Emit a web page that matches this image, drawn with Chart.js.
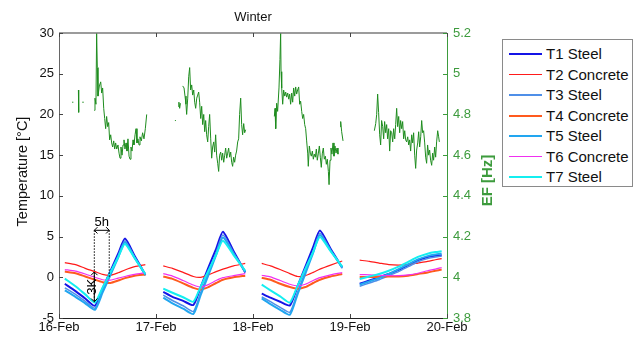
<!DOCTYPE html>
<html><head><meta charset="utf-8">
<script src="https://cdn.jsdelivr.net/npm/chart.js@4/dist/chart.umd.min.js"></script>
<style>
html,body{margin:0;padding:0;background:#fff;}
#wrap{position:relative;width:641px;height:340px;}
#legend{position:absolute;left:502px;top:39px;width:131px;height:148px;border:1px solid #8a8a8a;box-sizing:border-box;background:#fff;font-family:Arial,"Liberation Sans",sans-serif;font-size:15px;color:#111;}
.row{position:absolute;left:0;width:129px;height:20px;}
.sw{position:absolute;left:6px;width:33px;}
.lbl{position:absolute;left:43px;top:0;line-height:20px;white-space:nowrap;}
</style></head>
<body><div id="wrap"><canvas id="c" width="641" height="340"></canvas><div id="legend"></div></div>
<script>
// ---- axis categories / tick labels ----
const dayTicks = [0, 1, 2, 3, 4];
const dayLabels = ['16-Feb', '17-Feb', '18-Feb', '19-Feb', '20-Feb'];
const tempTicks = [-5, 0, 5, 10, 15, 20, 25, 30];
const efTicks = [3.8, 4, 4.2, 4.4, 4.6, 4.8, 5, 5.2];
const efTickLabels = ['3.8', '4', '4.2', '4.4', '4.6', '4.8', '5', '5.2'];

// ---- temperature series (days since 16-Feb, four daily measurement windows of 10 samples) ----
const tempDays = [0.06,0.17,0.27,0.37,0.45,0.53,0.61,0.68,0.78,0.89,
  1.075,1.17,1.28,1.385,1.46,1.54,1.62,1.69,1.80,1.92,
  2.09,2.18,2.28,2.38,2.46,2.54,2.62,2.69,2.80,2.92,
  3.10,3.20,3.30,3.40,3.50,3.60,3.70,3.80,3.88,3.945];
const T1 = [-0.8,-1.7,-2.6,-3.5,-1.37,0.76,2.89,4.75,2.63,0.3, -1.8,-2.4,-2.9,-3.4,-1.2,1.2,3.5,5.6,3.2,0.6, -2.0,-2.5,-3.0,-3.45,-1.1,1.3,3.7,5.75,3.5,1.2, -0.8,-0.4,0.0,0.4,0.9,1.5,2.1,2.5,2.65,2.7];
const T2 = [1.8,1.55,1.1,0.7,0.35,0.25,0.55,0.9,1.3,1.55, 1.4,1.1,0.6,0.1,0.0,0.3,0.7,1.0,1.4,1.7, 1.7,1.4,0.95,0.45,0.1,0.2,0.6,1.0,1.5,2.0, 2.1,1.95,1.75,1.55,1.5,1.55,1.75,1.95,2.15,2.3];
const T3 = [-1.3,-2.1,-2.95,-3.8,-1.66,0.48,2.63,4.5,2.45,0.2, -2.2,-2.85,-3.5,-4.2,-1.89,0.57,3.04,5.2,3.0,0.6, -2.4,-3.0,-3.7,-4.3,-1.8,0.7,3.2,5.4,3.34,1.1, -1.1,-0.7,-0.3,0.2,0.7,1.3,1.9,2.3,2.5,2.6];
const T4 = [0.7,0.5,0.1,-0.3,-0.6,-0.7,-0.4,-0.1,0.2,0.35, 0.1,-0.2,-0.75,-1.3,-1.5,-1.2,-0.7,-0.3,0.0,0.2, -0.05,-0.3,-0.8,-1.2,-1.4,-1.2,-0.7,-0.3,0.1,0.4, 0.05,0.05,0.05,0.1,0.1,0.2,0.4,0.6,0.8,0.95];
const T5 = [-1.6,-2.4,-3.2,-4.0,-1.86,0.28,2.43,4.3,2.4,0.3, -2.5,-3.2,-3.85,-4.5,-2.19,0.27,2.74,4.9,2.89,0.7, -2.6,-3.3,-4.0,-4.6,-2.07,0.46,2.99,5.2,3.29,1.2, -0.9,-0.5,-0.1,0.4,1.0,1.6,2.2,2.6,2.8,2.9];
const T6 = [0.95,0.75,0.4,0.0,-0.3,-0.35,-0.1,0.1,0.35,0.55, 0.45,0.15,-0.4,-0.95,-1.2,-0.9,-0.4,-0.05,0.2,0.45, 0.25,0.05,-0.4,-0.85,-1.05,-0.85,-0.4,-0.05,0.3,0.57, 0.33,0.3,0.25,0.2,0.2,0.3,0.5,0.8,1.0,1.2];
const T7 = [-0.16,-1.1,-2.1,-3.1,-1.24,0.61,2.47,4.1,2.35,0.4, -1.4,-1.9,-2.45,-3.0,-1.16,0.81,2.78,4.5,2.73,0.8, -0.9,-1.6,-2.35,-3.1,-1.02,1.06,3.13,4.95,3.2,1.3, -0.2,0.1,0.4,0.8,1.3,1.9,2.5,2.9,3.1,3.2];
const seriesNames = ['T1 Steel','T2 Concrete','T3 Steel','T4 Concrete','T5 Steel','T6 Concrete','T7 Steel'];

// ---- eigenfrequency EF [Hz] runs of [day, Hz] ----
const efBit1 = [[0.135,4.86],[0.148,4.86]];
const efBit2 = [[0.200,4.92],[0.203,4.81]];
const efBit3 = [[0.240,4.86],[0.255,4.86]];
const efSeg1 = [[0.364,4.82],[0.371,4.88],[0.381,4.85],[0.388,5.2],[0.395,5.03],[0.402,4.89],[0.416,4.94],[0.43,4.96],[0.44,4.905],[0.45,4.93],[0.461,4.83],[0.471,4.78],[0.481,4.73],[0.491,4.79],[0.502,4.74],[0.512,4.76],[0.522,4.675],[0.533,4.70],[0.543,4.66],[0.553,4.64],[0.564,4.67],[0.574,4.63],[0.584,4.66],[0.595,4.63],[0.608,4.65],[0.619,4.61],[0.629,4.585],[0.639,4.64],[0.65,4.60],[0.66,4.65],[0.67,4.675],[0.68,4.63],[0.691,4.66],[0.701,4.62],[0.711,4.68],[0.722,4.595],[0.732,4.58],[0.742,4.64],[0.753,4.62],[0.763,4.675],[0.773,4.65],[0.784,4.70],[0.794,4.73],[0.804,4.66],[0.814,4.68],[0.825,4.65],[0.835,4.69],[0.849,4.67],[0.862,4.71],[0.876,4.68],[0.89,4.73],[0.904,4.80]];
const efBit4 = [[1.195,4.77],[1.205,4.77]];
const efBit5 = [[1.228,4.84],[1.236,4.86],[1.244,4.83],[1.252,4.855]];
const efSeg2 = [[1.275,4.94],[1.289,4.93],[1.299,4.89],[1.309,4.85],[1.316,4.80],[1.327,4.88],[1.337,4.985],[1.347,5.03],[1.357,4.92],[1.368,4.945],[1.378,4.895],[1.389,4.92],[1.399,4.86],[1.409,4.83],[1.42,4.88],[1.43,4.895],[1.44,4.91],[1.45,4.86],[1.461,4.78],[1.471,4.84],[1.481,4.75],[1.492,4.80],[1.502,4.715],[1.512,4.77],[1.522,4.70],[1.533,4.665],[1.543,4.74],[1.553,4.80],[1.564,4.68],[1.574,4.585],[1.584,4.64],[1.595,4.665],[1.605,4.615],[1.615,4.70],[1.625,4.60],[1.636,4.56],[1.646,4.52],[1.656,4.60],[1.667,4.615],[1.677,4.575],[1.687,4.61],[1.698,4.565],[1.708,4.60],[1.718,4.635],[1.729,4.585],[1.739,4.61],[1.749,4.635],[1.759,4.59],[1.77,4.615],[1.78,4.565],[1.79,4.545],[1.8,4.59],[1.811,4.565],[1.821,4.60],[1.831,4.62],[1.842,4.665],[1.852,4.68],[1.862,4.80],[1.873,4.88],[1.883,4.75],[1.893,4.70],[1.904,4.755],[1.914,4.71],[1.924,4.725]];
const efSeg3 = [[2.22,4.79],[2.227,4.83],[2.234,4.73],[2.244,4.855],[2.254,4.815],[2.268,4.93],[2.278,5.07],[2.285,5.2],[2.289,5.01],[2.296,4.93],[2.306,4.85],[2.316,4.92],[2.327,4.89],[2.337,4.91],[2.347,4.885],[2.358,4.905],[2.368,4.875],[2.378,4.90],[2.388,4.85],[2.399,4.905],[2.409,4.86],[2.419,4.93],[2.43,4.89],[2.44,4.935],[2.45,4.90],[2.46,4.92],[2.471,4.935],[2.481,4.85],[2.491,4.865],[2.502,4.815],[2.512,4.78],[2.522,4.80],[2.533,4.75],[2.543,4.73],[2.553,4.67],[2.564,4.61],[2.57,4.545],[2.581,4.645],[2.591,4.61],[2.601,4.595],[2.612,4.62],[2.622,4.58],[2.632,4.605],[2.643,4.59],[2.653,4.63],[2.663,4.575],[2.674,4.61],[2.684,4.645],[2.694,4.59],[2.704,4.54],[2.715,4.61],[2.725,4.635],[2.735,4.58],[2.746,4.595],[2.756,4.555],[2.766,4.58],[2.777,4.52],[2.784,4.455],[2.794,4.575],[2.804,4.635],[2.814,4.605],[2.825,4.66],[2.835,4.595],[2.845,4.645],[2.856,4.61],[2.866,4.635],[2.876,4.605]];
const efBit6 = [[2.897,4.74],[2.904,4.765],[2.914,4.715],[2.928,4.67]];
const efSeg4 = [[3.251,4.72],[3.265,4.755],[3.275,4.80],[3.285,4.90],[3.295,4.81],[3.306,4.70],[3.316,4.65],[3.326,4.77],[3.337,4.74],[3.347,4.68],[3.357,4.765],[3.368,4.71],[3.378,4.75],[3.388,4.68],[3.399,4.73],[3.409,4.62],[3.419,4.72],[3.43,4.71],[3.44,4.665],[3.45,4.73],[3.461,4.68],[3.471,4.75],[3.481,4.83],[3.491,4.74],[3.502,4.79],[3.512,4.71],[3.522,4.77],[3.533,4.73],[3.543,4.765],[3.553,4.68],[3.564,4.72],[3.574,4.675],[3.584,4.665],[3.595,4.69],[3.605,4.65],[3.615,4.675],[3.625,4.62],[3.636,4.70],[3.646,4.66],[3.656,4.71],[3.667,4.60],[3.677,4.535],[3.687,4.625],[3.698,4.66],[3.708,4.715],[3.718,4.64],[3.729,4.69],[3.739,4.77],[3.749,4.71],[3.759,4.72],[3.77,4.66],[3.78,4.59],[3.79,4.56],[3.8,4.65],[3.811,4.60],[3.821,4.625],[3.831,4.575],[3.842,4.55],[3.852,4.61],[3.862,4.575],[3.873,4.64],[3.883,4.59],[3.893,4.665],[3.904,4.72],[3.914,4.69],[3.921,4.665]];
const efRuns = [efBit1, efBit2, efBit3, efSeg1, efBit4, efBit5, efSeg2, efSeg3, efBit6, efSeg4];

// ---- annotation values (days / °C) ----
const lagDays = [0.364, 0.518];   // 5h lag markers
const lagLevel = 5.77;            // °C level of the 5h arrow
const ampRange = [0.65, -3.0];    // 3K amplitude arrow
const lagDropEnds = [-3.1, 0.0];  // lower ends of the dotted markers
const noteTexts = ['5h', '3K'];

// ---- styles ----
const FONT = 'Arial, "Liberation Sans", sans-serif';
const colors = ['#1414e6','#ff1a1a','#4f8fe8','#ff5a1e','#22a6f0','#f030f0','#14eef0'];
const widths = [2, 1.2, 1.5, 2, 2, 1.2, 2];
const EF_COLOR = '#1e8c1e';
const AXIS_GREEN = '#3d9b3d';

function withGaps(days, vals, segLen){
  const out = [];
  for (let i = 0; i < days.length; i++){
    if (i > 0 && i % segLen === 0) out.push({x:(days[i-1]+days[i])/2, y:null});
    out.push({x:days[i], y:vals[i]});
  }
  return out;
}
function runsToData(runs){
  const out = [];
  runs.forEach((r,k)=>{
    if (k > 0){ const p = runs[k-1]; out.push({x:(p[p.length-1][0]+r[0][0])/2, y:null}); }
    r.forEach(pt=>out.push({x:pt[0], y:pt[1]}));
  });
  return out;
}
const tSeries = [T1,T2,T3,T4,T5,T6,T7];
const datasets = [{
  label:'EF', data:runsToData(efRuns), yAxisID:'y1', borderColor:EF_COLOR, borderWidth:1,
  pointRadius:0, tension:0, spanGaps:false, order:20
}];
tSeries.forEach((s,i)=>datasets.push({
  label:seriesNames[i], data:withGaps(tempDays, s, 10), yAxisID:'y', borderColor:colors[i],
  borderWidth:widths[i], pointRadius:0, tension:0.2, spanGaps:false, order:7-i
}));

function arrowHead(ctx, x, y, ang){
  const L = 4.5;
  ctx.beginPath();
  ctx.moveTo(x + L*Math.cos(ang+Math.PI*0.75), y + L*Math.sin(ang+Math.PI*0.75));
  ctx.lineTo(x, y);
  ctx.lineTo(x + L*Math.cos(ang-Math.PI*0.75), y + L*Math.sin(ang-Math.PI*0.75));
  ctx.stroke();
}

const decor = {
  id:'decor',
  afterDatasetsDraw(chart){
    const {ctx, scales:{x, y}} = chart;
    const xa = x.getPixelForValue(lagDays[0]), xb = x.getPixelForValue(lagDays[1]);
    const yl = y.getPixelForValue(lagLevel);
    ctx.save();
    ctx.strokeStyle = '#000'; ctx.lineWidth = 1;
    ctx.setLineDash([1.5,1.5]);
    ctx.beginPath();
    ctx.moveTo(xa, yl); ctx.lineTo(xa, y.getPixelForValue(lagDropEnds[0]));
    ctx.moveTo(xb, yl); ctx.lineTo(xb, y.getPixelForValue(lagDropEnds[1]));
    ctx.stroke();
    ctx.setLineDash([]);
    ctx.beginPath(); ctx.moveTo(xa, yl); ctx.lineTo(xb, yl); ctx.stroke();
    arrowHead(ctx, xa, yl, Math.PI); arrowHead(ctx, xb, yl, 0);
    const y0 = y.getPixelForValue(ampRange[0]), y1p = y.getPixelForValue(ampRange[1]);
    ctx.beginPath(); ctx.moveTo(xa, y0); ctx.lineTo(xa, y1p); ctx.stroke();
    arrowHead(ctx, xa, y0, -Math.PI/2); arrowHead(ctx, xa, y1p, Math.PI/2);
    ctx.fillStyle = '#000'; ctx.font = '13px ' + FONT;
    ctx.textAlign = 'center'; ctx.textBaseline = 'alphabetic';
    ctx.fillText(noteTexts[0], (xa+xb)/2, yl - 4);
    ctx.translate(xa + 2, (y0+y1p)/2); ctx.rotate(-Math.PI/2);
    ctx.fillText(noteTexts[1], 0, 0);
    ctx.restore();
  },
  afterDraw(chart){
    const {ctx, chartArea:{left,right,top,bottom}, scales:{x,y,y1}} = chart;
    ctx.save();
    ctx.strokeStyle = '#7a7a7a'; ctx.lineWidth = 1.5;
    ctx.beginPath(); ctx.moveTo(left, top); ctx.lineTo(right, top); ctx.stroke();
    ctx.lineWidth = 1;
    ctx.strokeStyle = '#444';
    ctx.beginPath();
    tempTicks.forEach(v=>{ const p = Math.round(y.getPixelForValue(v))+0.5; ctx.moveTo(left, p); ctx.lineTo(left+4, p); });
    dayTicks.forEach(v=>{ const p = Math.round(x.getPixelForValue(v))+0.5; ctx.moveTo(p, bottom); ctx.lineTo(p, bottom-4); ctx.moveTo(p, top); ctx.lineTo(p, top+4); });
    ctx.stroke();
    ctx.strokeStyle = AXIS_GREEN;
    ctx.beginPath();
    efTicks.forEach(v=>{ const p = Math.round(y1.getPixelForValue(v))+0.5; ctx.moveTo(right, p); ctx.lineTo(right-4, p); });
    ctx.stroke();
    ctx.fillStyle = '#111'; ctx.font = '14.5px ' + FONT;
    ctx.textAlign = 'center'; ctx.textBaseline = 'middle';
    ctx.save(); ctx.translate(23, (top+bottom)/2 - 4); ctx.rotate(-Math.PI/2);
    ctx.fillText('Temperature [°C]', 0, 0); ctx.restore();
    ctx.fillStyle = AXIS_GREEN; ctx.font = 'bold 15px ' + FONT;
    ctx.save(); ctx.translate(488, (top+bottom)/2 + 5); ctx.rotate(-Math.PI/2);
    ctx.fillText('EF [Hz]', 0, 0); ctx.restore();
    ctx.restore();
  }
};

Chart.defaults.font.family = FONT;
new Chart(document.getElementById('c'), {
  type:'line',
  data:{datasets},
  options:{
    responsive:false, animation:false, devicePixelRatio:1,
    layout:{padding:0},
    plugins:{
      legend:{display:false}, tooltip:{enabled:false},
      title:{display:true, text:'Winter', fullSize:false, color:'#111', font:{size:13, weight:'normal', lineHeight:1.2}, padding:{top:10, bottom:7.4}}
    },
    scales:{
      x:{type:'linear', min:0, max:4,
        afterBuildTicks:s=>{ s.ticks = dayTicks.map(v=>({value:v})); },
        afterFit:s=>{ s.height = 22; },
        ticks:{autoSkip:false, maxRotation:0, padding:2, color:'#111', font:{size:13},
          callback:v=>{ const i = dayTicks.indexOf(v); return i >= 0 ? dayLabels[i] : ''; }},
        grid:{display:false, drawTicks:false}, border:{display:true, color:'#222', width:1}},
      y:{position:'left', min:-5, max:30,
        afterBuildTicks:s=>{ s.ticks = tempTicks.map(v=>({value:v})); },
        afterFit:s=>{ s.width = 59; },
        ticks:{padding:5, color:'#111', font:{size:13}},
        grid:{display:false, drawTicks:false}, border:{display:true, color:'#666', width:1}},
      y1:{position:'right', min:3.8, max:5.2,
        afterBuildTicks:s=>{ s.ticks = efTicks.map(v=>({value:v})); },
        afterFit:s=>{ s.width = 194; },
        ticks:{padding:6, color:AXIS_GREEN, font:{size:13},
          callback:v=>{ const i = efTicks.indexOf(v); return i >= 0 ? efTickLabels[i] : ''; }},
        grid:{display:false, drawTicks:false, drawOnChartArea:false}, border:{display:true, color:AXIS_GREEN, width:1}}
    }
  },
  plugins:[decor]
});

// legend (HTML)
const lg = document.getElementById('legend');
seriesNames.forEach((n,i)=>{
  const row = document.createElement('div'); row.className = 'row'; row.style.top = (4 + i*20.5) + 'px';
  const sw = document.createElement('div'); sw.className = 'sw';
  sw.style.top = (10 - widths[i]/2) + 'px'; sw.style.height = Math.max(widths[i],1.5) + 'px'; sw.style.background = colors[i];
  const lb = document.createElement('div'); lb.className = 'lbl'; lb.textContent = n;
  row.appendChild(sw); row.appendChild(lb); lg.appendChild(row);
});
</script></body></html>
